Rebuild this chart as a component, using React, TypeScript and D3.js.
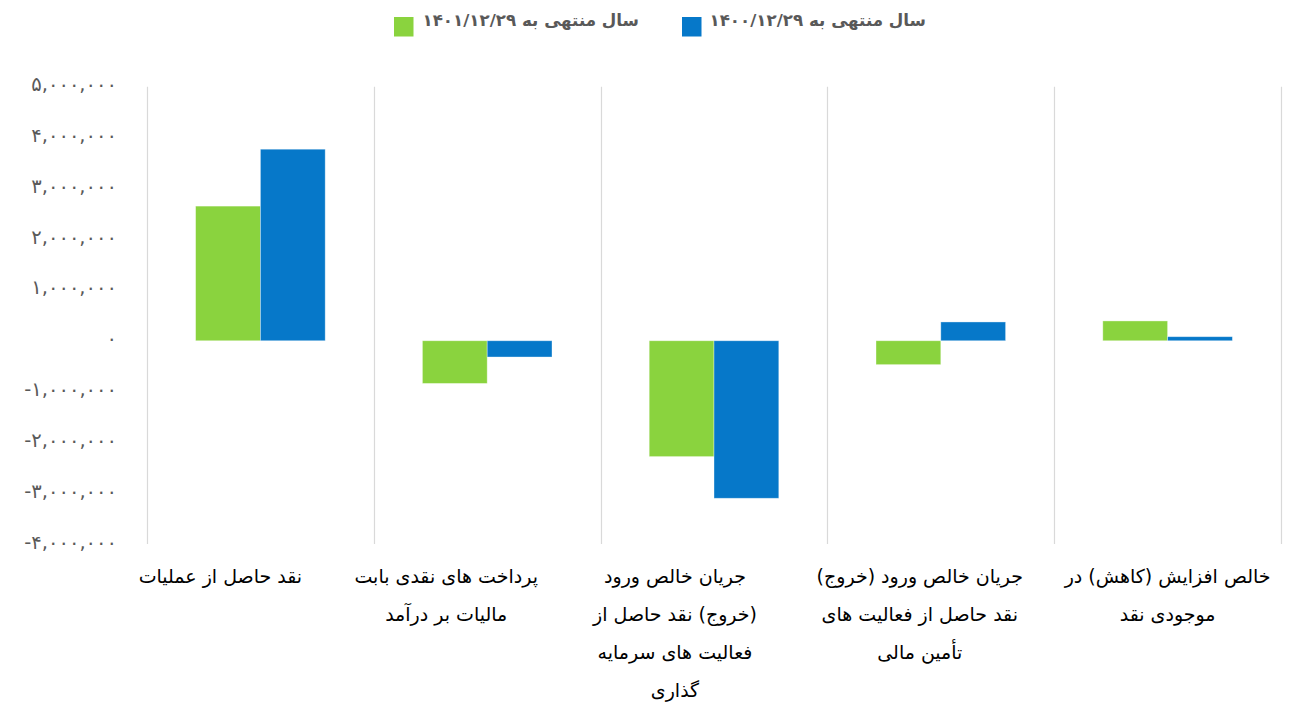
import React from "react";
import * as d3 from "d3";

const categories: string[][] = [
  ["نقد حاصل از عملیات"],
  ["پرداخت های نقدی بابت", "مالیات بر درآمد"],
  ["جریان خالص ورود", "(خروج) نقد حاصل از", "فعالیت های سرمایه", "گذاری"],
  ["جریان خالص ورود (خروج)", "نقد حاصل از فعالیت های", "تأمین مالی"],
  ["خالص افزایش (کاهش) در", "موجودی نقد"],
];

const seriesNames = ["سال منتهی به ۱۴۰۱/۱۲/۲۹", "سال منتهی به ۱۴۰۰/۱۲/۲۹"];
const values1401 = [2650000, -840000, -2280000, -470000, 390000];
const values1400 = [3770000, -320000, -3100000, 370000, 80000];
const yTicks = [5000000, 4000000, 3000000, 2000000, 1000000, 0, -1000000, -2000000, -3000000, -4000000];

// layout constants (label horizontal shift relative to band centre)
const labelShift = [-40, -41, -39, -21, 0];

const W = 1289;
const H = 707;
const colors = ["#8AD33E", "#0678C9"];

const toPersian = (s: string) => s.replace(/[0-9]/g, (d) => "۰۱۲۳۴۵۶۷۸۹"[+d]);

export default function App() {
  const x = d3.scaleBand<number>().domain(d3.range(categories.length)).range([147, 1281]);
  const bw = x.bandwidth();
  // gap width 150%: 2 bars + 1.5 bar gap
  const barW = bw / 3.5;
  const y = d3.scaleLinear().domain([-4000000, 5000000]).range([544, 86.7]);
  const fmt = d3.format(",");
  const series = [values1401, values1400];
  const persianFont = "'DejaVu Sans', 'Noto Sans', sans-serif";

  return (
    <div style={{ position: "absolute", left: 0, top: 0 }}>
      <svg width={W} height={H} style={{ display: "block" }}>
        <rect width={W} height={H} fill="#fff" />
        {/* vertical gridlines */}
        {d3.range(categories.length + 1).map((i) => {
          const gx = Math.round(147 + i * bw) + 0.5;
          return <line key={i} x1={gx} x2={gx} y1={y(5000000)} y2={y(-4000000)} stroke="#D9D9D9" strokeWidth={1.2} />;
        })}
        {/* bars */}
        {series.map((vals, si) =>
          vals.map((v, i) => {
            const bx = (x(i) as number) + barW * 0.75 + si * barW;
            const y0 = y(0);
            const y1 = y(v);
            return (
              <rect
                key={si + "-" + i}
                x={bx}
                y={Math.min(y0, y1)}
                width={barW}
                height={Math.abs(y1 - y0)}
                fill={colors[si]}
                stroke="#ffffff"
                strokeOpacity={0.45}
                strokeWidth={0.8}
              />
            );
          })
        )}
        {/* y tick labels */}
        {yTicks.map((t) => (
          <text
            key={t}
            x={117}
            y={y(t) - 1}
            textAnchor="end"
            dominantBaseline="middle"
            fontFamily={persianFont}
            fontSize={19.5}
            fill="#595959"
            style={{ direction: "ltr" }}
          >
            {toPersian(fmt(t).replace("−", "-"))}
          </text>
        ))}
        {/* category labels */}
        {categories.map((lines, i) => {
          const cx = (x(i) as number) + bw / 2 + labelShift[i];
          return lines.map((ln, li) => (
            <text
              key={i + "-" + li}
              x={cx}
              y={577 + li * 38}
              textAnchor="middle"
              dominantBaseline="middle"
              fontFamily={persianFont}
              fontSize={19}
              fill="#000"
              style={{ direction: "rtl", unicodeBidi: "embed" }}
            >
              {ln}
            </text>
          ));
        })}
        {/* legend */}
        {[
          { si: 0, sq: 394, textRight: 639 },
          { si: 1, sq: 682, textRight: 926 },
        ].map((l) => (
          <g key={l.si}>
            <rect x={l.sq} y={17} width={19.5} height={19.5} fill={colors[l.si]} />
            <text
              x={l.textRight}
              y={21}
              textAnchor="start"
              dominantBaseline="middle"
              fontFamily={persianFont}
              fontSize={16.7}
              fontWeight="bold"
              fill="#595959"
              style={{ direction: "rtl", unicodeBidi: "embed" }}
            >
              {seriesNames[l.si]}
            </text>
          </g>
        ))}
      </svg>
    </div>
  );
}
